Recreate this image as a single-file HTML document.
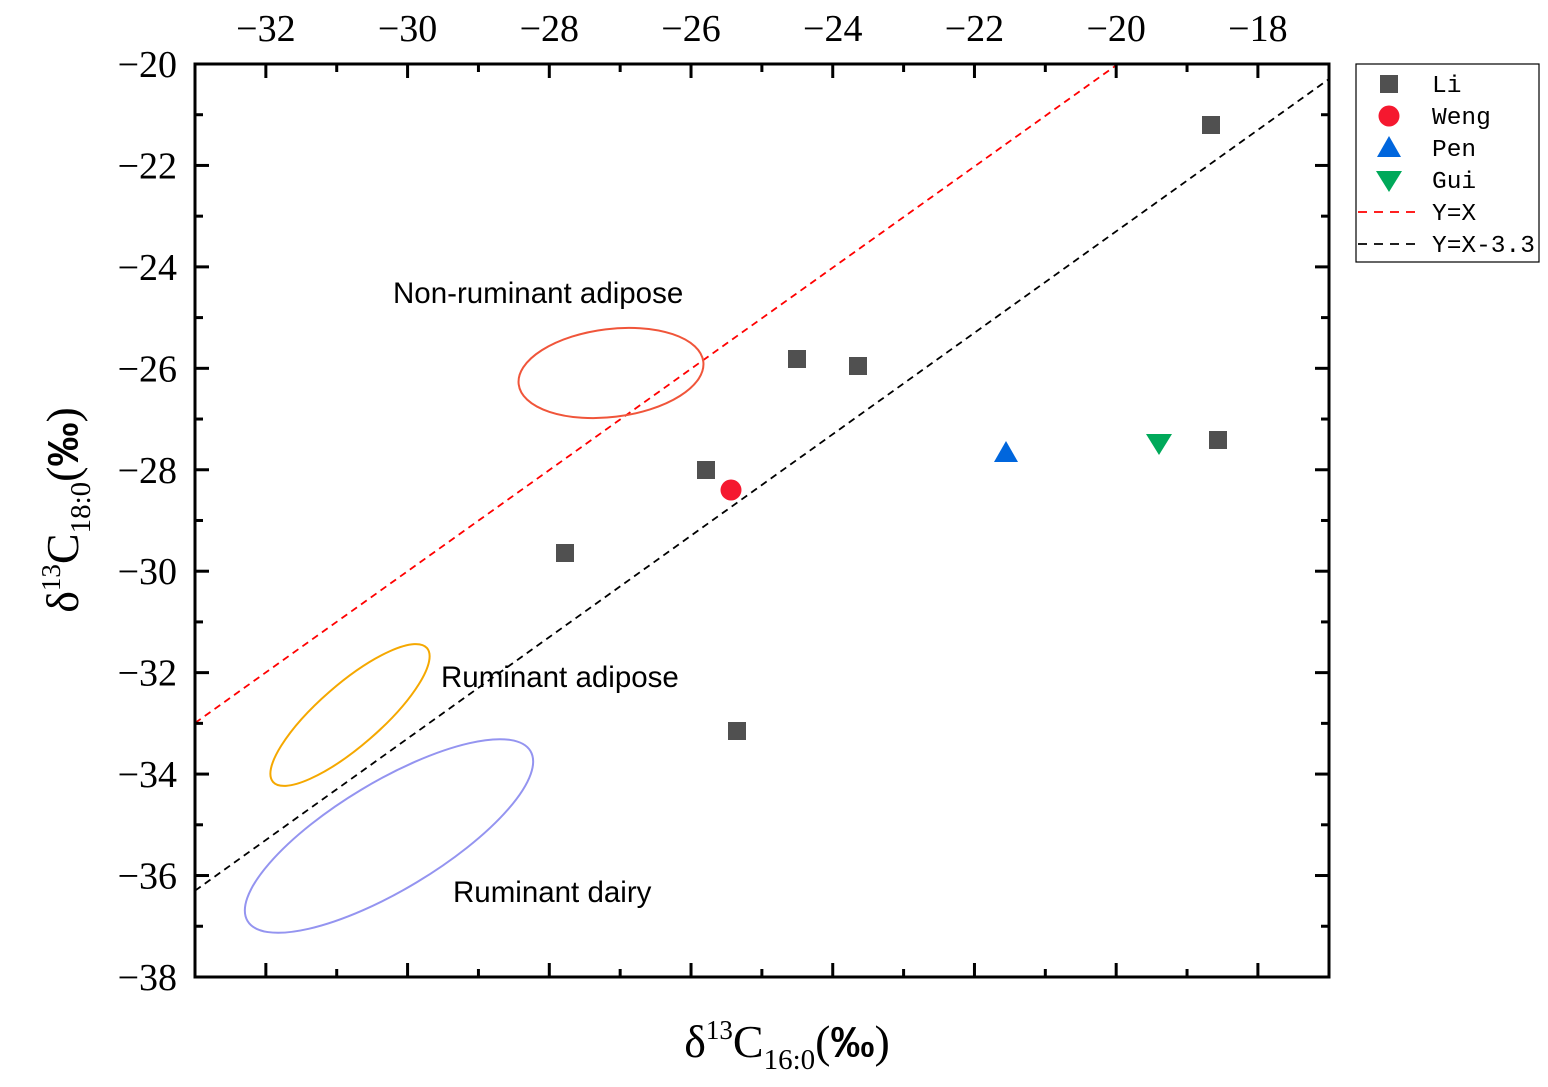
<!DOCTYPE html>
<html><head><meta charset="utf-8"><style>body{margin:0;background:#fff}</style></head><body>
<svg width="1548" height="1082" viewBox="0 0 1548 1082" xmlns="http://www.w3.org/2000/svg">
<defs><clipPath id="c"><rect x="195" y="64" width="1134" height="913"/></clipPath></defs>
<g clip-path="url(#c)">
<line x1="195" y1="723" x2="1118" y2="64" stroke="#f00" stroke-width="1.8" stroke-dasharray="7,5"/>
<line x1="195" y1="890.7" x2="1329" y2="79" stroke="#000" stroke-width="1.8" stroke-dasharray="7,5"/>
<ellipse cx="611" cy="373" rx="93" ry="44" transform="rotate(-7 611 373)" fill="none" stroke="#f0553a" stroke-width="2"/>
<ellipse cx="350" cy="715" rx="102" ry="31" transform="rotate(-41 350 715)" fill="none" stroke="#f5a800" stroke-width="2"/>
<ellipse cx="389" cy="836" rx="165" ry="54" transform="rotate(-31 389 836)" fill="none" stroke="#9494f0" stroke-width="2"/>
</g>
<g font-family="Liberation Sans, sans-serif" font-size="29.5" fill="#000">
<text x="393" y="303">Non-ruminant adipose</text>
<text x="441" y="687">Ruminant adipose</text>
<text x="453" y="902">Ruminant dairy</text>
</g>
<g fill="#505050">
<rect x="1202" y="116" width="18" height="18"/><rect x="788" y="350" width="18" height="18"/>
<rect x="849" y="357" width="18" height="18"/><rect x="697" y="461" width="18" height="18"/>
<rect x="556" y="544" width="18" height="18"/><rect x="728" y="722" width="18" height="18"/>
<rect x="1209" y="431" width="18" height="18"/>
</g>
<circle cx="731" cy="490" r="10.5" fill="#f5182f"/>
<polygon points="1006,441 1018,462 994,462" fill="#0066dd"/>
<polygon points="1146,434 1172,434 1159,455" fill="#00a95a"/>
<rect x="195" y="64" width="1134" height="913" stroke="#000" stroke-width="3" fill="none"/>
<g stroke="#000" stroke-width="3" id="ticks"></g>
<g font-family="Liberation Serif, serif" font-size="38" fill="#000" id="labs"></g>
<text x="787" y="1057" text-anchor="middle" font-family="Liberation Serif, serif" font-size="46">δ<tspan font-size="27" dy="-18">13</tspan><tspan dy="18">C</tspan><tspan font-size="29" dy="12">16:0</tspan><tspan dy="-12">(</tspan><tspan font-family="Liberation Sans, sans-serif" font-weight="bold" font-size="44">‰</tspan><tspan>)</tspan></text>
<text transform="translate(78 510) rotate(-90)" text-anchor="middle" font-family="Liberation Serif, serif" font-size="46">δ<tspan font-size="27" dy="-18">13</tspan><tspan dy="18">C</tspan><tspan font-size="29" dy="12">18:0</tspan><tspan dy="-12">(</tspan><tspan font-family="Liberation Sans, sans-serif" font-weight="bold" font-size="44">‰</tspan><tspan>)</tspan></text>
<rect x="1356" y="64" width="183" height="198" fill="#fff" stroke="#000" stroke-width="1.2"/>
<rect x="1380" y="75" width="18" height="18" fill="#505050"/>
<circle cx="1389" cy="116" r="10.5" fill="#f5182f"/>
<polygon points="1389,136 1401,157 1377,157" fill="#0066dd"/>
<polygon points="1376,171 1402,171 1389,192" fill="#00a95a"/>
<line x1="1358" y1="212" x2="1415" y2="212" stroke="#f00" stroke-width="1.8" stroke-dasharray="9,7"/>
<line x1="1358" y1="244" x2="1415" y2="244" stroke="#000" stroke-width="1.8" stroke-dasharray="9,7"/>
<g font-family="Liberation Mono, monospace" font-size="24.5" fill="#000">
<text x="1432" y="92">Li</text><text x="1432" y="124">Weng</text><text x="1432" y="156">Pen</text>
<text x="1432" y="188">Gui</text><text x="1432" y="220">Y=X</text><text x="1432" y="252">Y=X-3.3</text>
</g>
<script>
var t=document.getElementById('ticks'),l=document.getElementById('labs'),ns='http://www.w3.org/2000/svg';
function ln(a,b,c,d){var e=document.createElementNS(ns,'line');e.setAttribute('x1',a);e.setAttribute('y1',b);e.setAttribute('x2',c);e.setAttribute('y2',d);t.appendChild(e);}
function tx(x,y,s,anc){var e=document.createElementNS(ns,'text');e.setAttribute('x',x);e.setAttribute('y',y);e.setAttribute('text-anchor',anc);e.textContent=s;l.appendChild(e);}
for(var v=-32;v<=-18;v++){var x=195+(v+33)*70.86,m=(v%2==0),L=m?14:8;ln(x,64,x,64+L);ln(x,977,x,977-L);if(m)tx(x,41,'\u2212'+(-v),'middle');}
for(var v=-20;v>=-38;v--){var y=64+(-20-v)*50.72,m=(v%2==0),L=m?14:8;if(v>-38&&v<-20){ln(195,y,195+L,y);ln(1329,y,1329-L,y);}if(m)tx(177,y+13,'\u2212'+(-v),'end');}
</script>
</svg>
</body></html>
